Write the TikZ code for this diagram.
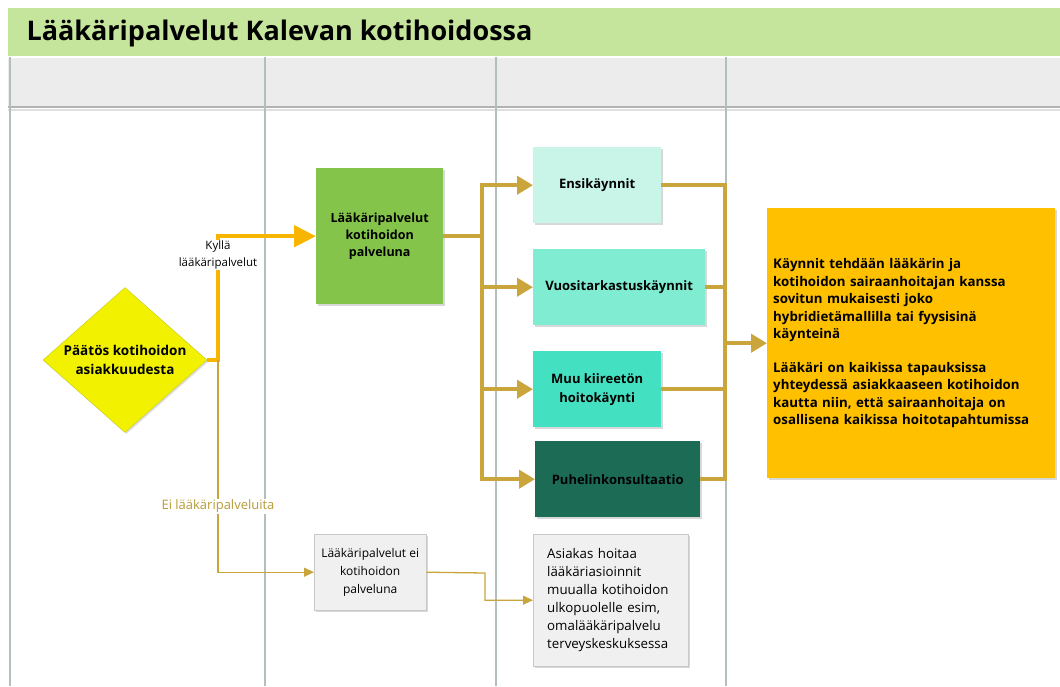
\documentclass[tikz,border=0pt]{standalone}
\usepackage{fontspec}
\setmainfont{Open Sans}
\usetikzlibrary{arrows.meta,positioning,shapes.geometric,shadows}

\definecolor{titlegreen}{HTML}{C6E59C}
\definecolor{headgray}{HTML}{ECECEC}
\definecolor{lanegray}{HTML}{B4BEBE}
\definecolor{dyellow}{HTML}{F2F200}
\definecolor{dyellowline}{HTML}{C8C820}
\definecolor{kylla}{HTML}{F7B500}
\definecolor{gold}{HTML}{C9A53C}
\definecolor{eitext}{HTML}{B89B3A}
\definecolor{boxgreen}{HTML}{84C44A}
\definecolor{mintA}{HTML}{C8F5E8}
\definecolor{mintB}{HTML}{80ECD2}
\definecolor{mintC}{HTML}{44E0C2}
\definecolor{darkgreen}{HTML}{1B6B55}
\definecolor{orangebox}{HTML}{FFC000}
\definecolor{boxfill}{HTML}{F0F0F0}
\definecolor{boxline}{HTML}{C8C8C8}

\begin{document}
\begin{tikzpicture}[
		x=1pt,y=-1pt,
		LaneLines/.style={draw=lanegray,line width=1.2pt},
		MyBoxes/.style={rectangle,anchor=north west,align=center,inner sep=2pt,
			font=\bfseries\fontsize{13}{19}\selectfont,
			drop shadow={opacity=0.3,shadow xshift=1.5pt,shadow yshift=-1.5pt}},
		GrayBoxes/.style={MyBoxes,draw=boxline,fill=boxfill,font=\fontsize{12}{18}\selectfont},
		GoldLine/.style={draw=gold,line width=4.5pt},
		GoldArrow/.style={GoldLine,-{Triangle[length=16pt,width=18pt]}},
		KyllaArrow/.style={draw=kylla,line width=4.5pt,-{Triangle[length=22pt,width=21pt]}},
		EiLine/.style={draw=gold,line width=1.3pt},
		EiArrow/.style={EiLine,-{Triangle[length=10pt,width=9pt]}}
		]
		\useasboundingbox (0,0) rectangle (1060,686);
		\fill[white] (0,0) rectangle (1060,686);
		
		% title and header row
		\fill[titlegreen] (8,8) rectangle (1060,57);
		\node[anchor=west,font=\bfseries\fontsize{27}{30}\selectfont] (title) at (23,33) {Lääkäripalvelut Kalevan kotihoidossa};
		\fill[headgray] (8,57) rectangle (1060,107);
		\draw[white,line width=2pt] (8,57) -- (1060,57);
		\draw[draw=gray!60,line width=1.5pt] (8,107) -- (1060,107);
		\draw[draw=gray!25,line width=2pt] (8,109.5) -- (1060,109.5);
		
		% lanes
		\draw[LaneLines] (10,57) -- (10,686);
		\draw[LaneLines] (265,57) -- (265,686);
		\draw[LaneLines] (496,57) -- (496,686);
		\draw[LaneLines] (726,57) -- (726,686);
		
		% decision
		\node[diamond,fill=dyellow,draw=dyellowline,minimum width=164pt,minimum height=145pt,inner sep=0pt,
			drop shadow={opacity=0.25,shadow xshift=1.5pt,shadow yshift=-1.5pt}] (dec) at (125,360) {};
		\node[align=center,font=\bfseries\fontsize{13.5}{19}\selectfont] (dectext) at (dec) {Päätös kotihoidon\\asiakkuudesta};
		\coordinate (jct) at (218,360);
		
		% boxes
		\node[MyBoxes,fill=boxgreen,minimum width=127pt,minimum height=136pt,
			font=\bfseries\fontsize{12.5}{17}\selectfont] (lkp) at (316,168) {Lääkäripalvelut\\kotihoidon\\palveluna};
		\node[MyBoxes,fill=mintA,minimum width=128pt,minimum height=76pt] (ensi) at (533,147) {Ensikäynnit};
		\node[MyBoxes,fill=mintB,minimum width=172pt,minimum height=76pt] (vuosi) at (533,249) {Vuositarkastuskäynnit};
		\node[MyBoxes,fill=mintC,minimum width=128pt,minimum height=76pt] (muu) at (533,351) {Muu kiireetön\\hoitokäynti};
		\node[MyBoxes,fill=darkgreen,minimum width=165pt,minimum height=76pt] (puhe) at (535,441) {Puhelinkonsultaatio};
		\node[MyBoxes,fill=orangebox,minimum width=288pt,minimum height=270pt,align=left,
			text width=276pt,inner sep=6pt,
			font=\bfseries\fontsize{13.3}{17.5}\selectfont] (kaynnit) at (767,208)
			{Käynnit tehdään lääkärin ja\\kotihoidon sairaanhoitajan kanssa\\sovitun mukaisesti joko\\hybridietämallilla tai fyysisinä\\käynteinä\\[16pt]Lääkäri on kaikissa tapauksissa\\yhteydessä asiakkaaseen kotihoidon\\kautta niin, että sairaanhoitaja on\\osallisena kaikissa hoitotapahtumissa};
		\node[GrayBoxes,minimum width=112pt,minimum height=76pt] (eibox) at (314,534) {Lääkäripalvelut ei\\kotihoidon\\palveluna};
		\node[GrayBoxes,minimum width=155pt,minimum height=132pt,align=left,text width=127pt,
			inner xsep=14pt,inner ysep=6pt,
			font=\fontsize{13.3}{18}\selectfont] (muualla) at (533,534)
			{Asiakas hoitaa\\lääkäriasioinnit\\muualla kotihoidon\\ulkopuolelle esim,\\omalääkäripalvelu\\terveyskeskuksessa};
		
		% yes branch
		\draw[KyllaArrow] (dec.east) -- (jct) |- (lkp.west);
		\node[fill=white,inner sep=1pt,align=center,font=\fontsize{11.5}{17}\selectfont] (kyllalbl) at (218,255) {Kyllä\\lääkäripalvelut};
		
		% no branch
		\draw[EiArrow] (jct) |- (eibox.west);
		\node[fill=white,inner sep=1pt,text=eitext,font=\fontsize{13}{15}\selectfont] (eilbl) at (218,506) {Ei lääkäripalveluita};
		\coordinate (eimid) at (485,573);
		\draw[EiArrow] (eibox.east) -- (eimid) |- (muualla.west);
		
		% left bus
		\coordinate (busL) at (482,0);
		\draw[GoldLine] (lkp.east) -- (lkp.east -| busL);
		\draw[GoldLine,line cap=rect] (ensi.west -| busL) -- (puhe.west -| busL);
		\draw[GoldArrow] (ensi.west -| busL) -- (ensi.west);
		\draw[GoldArrow] (vuosi.west -| busL) -- (vuosi.west);
		\draw[GoldArrow] (muu.west -| busL) -- (muu.west);
		\draw[GoldArrow] (puhe.west -| busL) -- (puhe.west);
		
		% right bus
		\coordinate (busR) at (725,0);
		\draw[GoldLine] (ensi.east) -- (ensi.east -| busR);
		\draw[GoldLine] (vuosi.east) -- (vuosi.east -| busR);
		\draw[GoldLine] (muu.east) -- (muu.east -| busR);
		\draw[GoldLine] (puhe.east) -- (puhe.east -| busR);
		\draw[GoldLine,line cap=rect] (ensi.east -| busR) -- (puhe.east -| busR);
		\draw[GoldArrow] (kaynnit.west -| busR) -- (kaynnit.west);
		
		\end{tikzpicture}
\end{document}
